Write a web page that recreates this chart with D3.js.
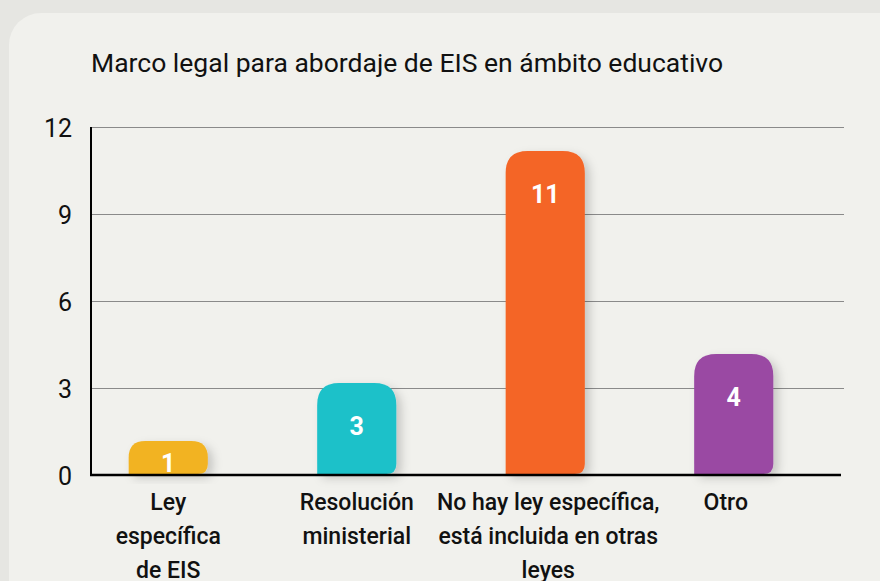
<!DOCTYPE html>
<html>
<head>
<meta charset="utf-8">
<script src="https://cdn.jsdelivr.net/npm/d3@7"></script>
<style>
  html, body { margin: 0; padding: 0; background: #e6e6e2; }
  svg { display: block; font-family: Roboto, "Noto Sans", sans-serif; }
</style>
</head>
<body>
<div id="chart"></div>
<script>
// data
const categories = [
  ["Ley", "específica", "de EIS"],
  ["Resolución", "ministerial"],
  ["No hay ley específica,", "está incluida en otras", "leyes"],
  ["Otro"]
];
const values = [1, 3, 11, 4];
const colors = ["#f2b324", "#1fc1c9", "#f46526", "#9a4aa3"];
const yTicks = [0, 3, 6, 9, 12];
const title = "Marco legal para abordaje de EIS en ámbito educativo";

const w = 880, h = 581;
const margin = { top: 127, right: 39, bottom: 106, left: 91 };
const innerW = w - margin.left - margin.right;
const innerH = h - margin.top - margin.bottom;

const svg = d3.select("#chart").append("svg")
  .attr("width", w)
  .attr("height", h);

// drop shadow for the bars
const defs = svg.append("defs");
defs.append("filter")
  .attr("id", "shadow")
  .attr("x", "-30%").attr("y", "-30%")
  .attr("width", "160%").attr("height", "160%")
  .append("feDropShadow")
  .attr("dx", 5).attr("dy", 4)
  .attr("stdDeviation", 5)
  .attr("flood-color", "#000")
  .attr("flood-opacity", 0.18);

// card
svg.append("rect")
  .attr("x", 9).attr("y", 13)
  .attr("width", w + 40).attr("height", h + 40)
  .attr("rx", 32)
  .attr("fill", "#f1f1ed");

svg.append("text")
  .attr("x", 91).attr("y", 72)
  .attr("font-size", 26.5)
  .attr("fill", "#111")
  .text(title);

const g = svg.append("g")
  .attr("transform", `translate(${margin.left},${margin.top})`);

const y = d3.scaleLinear().domain([0, 12]).range([innerH, 0]);
const x = d3.scaleBand()
  .domain(d3.range(values.length))
  .range([-17, innerW - 13])
  .paddingInner(0.58)
  .paddingOuter(0.29);

// gridlines
g.selectAll(".grid")
  .data(yTicks.filter(d => d > 0))
  .enter().append("line")
  .attr("x1", 0).attr("x2", innerW + 3)
  .attr("y1", d => y(d) + 0.5).attr("y2", d => y(d) + 0.5)
  .attr("stroke", "#8a8a8a")
  .attr("stroke-width", 1.2);

// tick labels
g.selectAll(".tick")
  .data(yTicks)
  .enter().append("text")
  .attr("x", -19)
  .attr("y", d => y(d) + 10)
  .attr("text-anchor", "end")
  .attr("font-size", 25)
  .attr("fill", "#111")
  .text(d => d);

// bar shape: big rounded top corners, small bottom-right corner
function barPath(x0, y0, bw, bh) {
  const rt = Math.min(22, bh / 2, bw / 2);
  const rb = Math.min(10, bh / 3);
  return `M${x0},${y0 + bh}` +
    `V${y0 + rt}` +
    `Q${x0},${y0} ${x0 + rt},${y0}` +
    `H${x0 + bw - rt}` +
    `Q${x0 + bw},${y0} ${x0 + bw},${y0 + rt}` +
    `V${y0 + bh - rb}` +
    `Q${x0 + bw},${y0 + bh} ${x0 + bw - rb},${y0 + bh}` +
    `Z`;
}

const cap = 5; // bars overshoot their value slightly in the reference

g.selectAll(".bar")
  .data(values)
  .enter().append("path")
  .attr("d", (d, i) => barPath(x(i), y(d) - cap, x.bandwidth(), innerH - y(d) + cap - 1))
  .attr("fill", (d, i) => colors[i])
  .attr("filter", "url(#shadow)");

// value labels
g.selectAll(".val")
  .data(values)
  .enter().append("text")
  .attr("x", (d, i) => x(i) + x.bandwidth() / 2)
  .attr("y", d => Math.min(y(d) - cap + 52, innerH - 3))
  .attr("text-anchor", "middle")
  .attr("font-size", 25)
  .attr("font-weight", 700)
  .attr("fill", "#fff")
  .text(d => d);

// axes lines
g.append("line")
  .attr("x1", 0).attr("x2", 0)
  .attr("y1", 0).attr("y2", innerH)
  .attr("stroke", "#000").attr("stroke-width", 2);
g.append("line")
  .attr("x1", -1).attr("x2", innerW)
  .attr("y1", innerH).attr("y2", innerH)
  .attr("stroke", "#000").attr("stroke-width", 2.5);

// category labels
const labelShift = [0, 0, 3, -8];
const cat = g.selectAll(".cat")
  .data(categories)
  .enter().append("text")
  .attr("text-anchor", "middle")
  .attr("font-size", 23)
  .attr("font-weight", 500)
  .attr("fill", "#111")
  .attr("transform", (d, i) => `translate(${x(i) + x.bandwidth() / 2 + labelShift[i]},${innerH + 35})`);

cat.selectAll("tspan")
  .data(d => d)
  .enter().append("tspan")
  .attr("x", 0)
  .attr("dy", (d, i) => i === 0 ? 0 : 34)
  .text(d => d);
</script>
</body>
</html>
